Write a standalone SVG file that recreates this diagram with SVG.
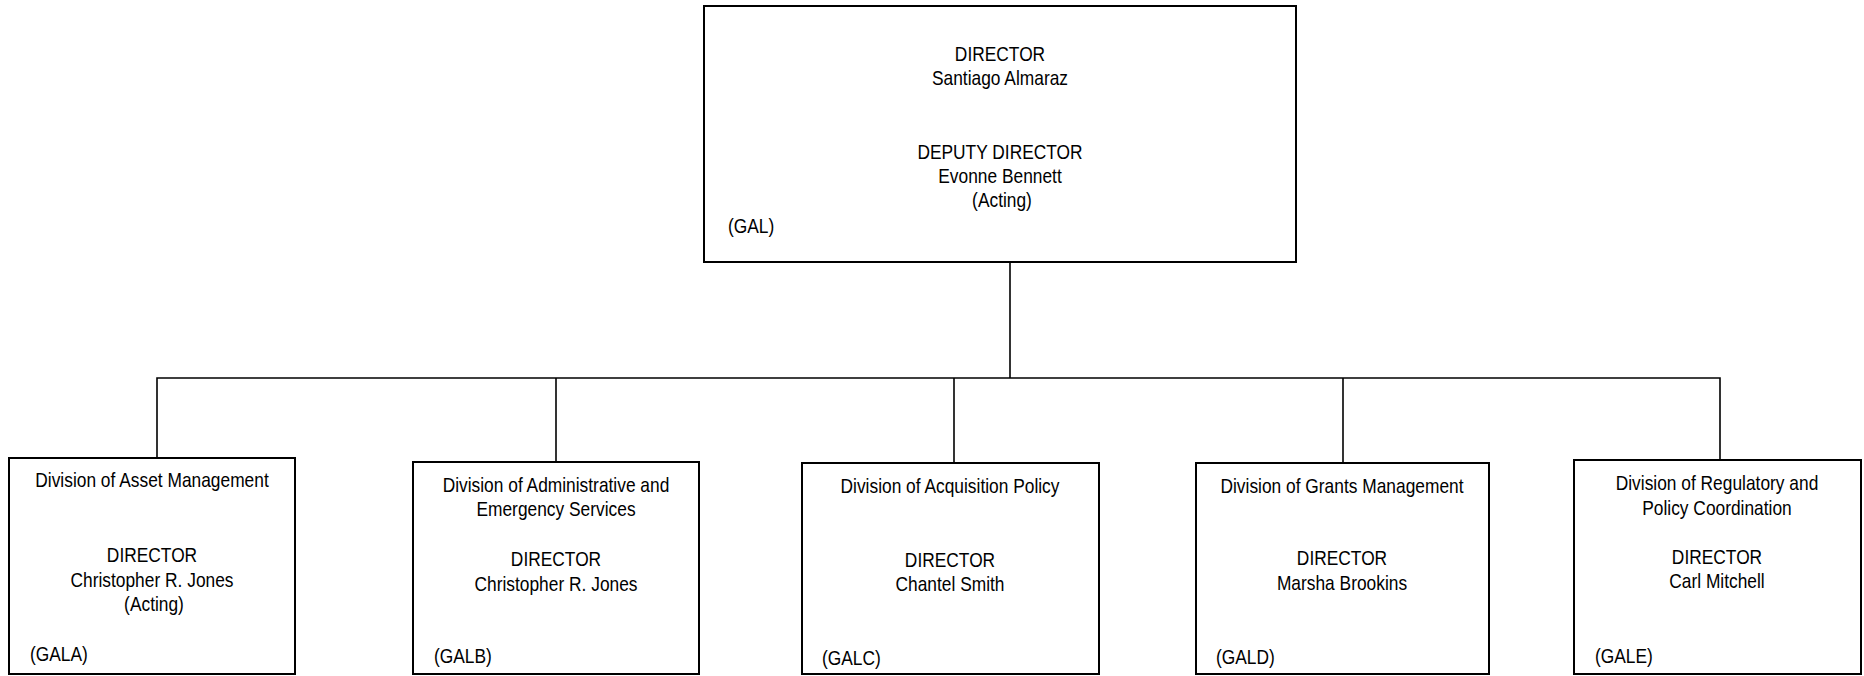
<svg xmlns="http://www.w3.org/2000/svg" width="1864" height="676" viewBox="0 0 1864 676">
<style>
.box{fill:#fff;stroke:#000;stroke-width:2}
.ln{fill:none;stroke:#000;stroke-width:1.6}
text{font-family:"Liberation Sans",Arial,sans-serif;font-size:20px;fill:#000}
.c{text-anchor:middle}
.l{text-anchor:start}
</style>
<rect width="1864" height="676" fill="#fff"/>
<g id="connectors">
<path class="ln" d="M1010 262 V378"/>
<path class="ln" d="M157 458 V378 H1720 V460"/>
<path class="ln" d="M556 378 V462"/>
<path class="ln" d="M954 378 V463"/>
<path class="ln" d="M1343 378 V463"/>
</g>
<g id="gal">
<rect class="box" x="704" y="6" width="592" height="256"/>
<text class="c" transform="translate(1000,61) scale(0.868,1)">DIRECTOR</text>
<text class="c" transform="translate(1000,85) scale(0.868,1)">Santiago Almaraz</text>
<text class="c" transform="translate(1000,159) scale(0.868,1)">DEPUTY DIRECTOR</text>
<text class="c" transform="translate(1000,183) scale(0.868,1)">Evonne Bennett</text>
<text class="c" transform="translate(1002,207) scale(0.868,1)">(Acting)</text>
<text class="l" transform="translate(728,233) scale(0.868,1)">(GAL)</text>
</g>
<g id="gala">
<rect class="box" x="9" y="458" width="286" height="216"/>
<text class="c" transform="translate(152,487) scale(0.868,1)">Division of Asset Management</text>
<text class="c" transform="translate(152,562) scale(0.868,1)">DIRECTOR</text>
<text class="c" transform="translate(152,587) scale(0.868,1)">Christopher R. Jones</text>
<text class="c" transform="translate(154,611) scale(0.868,1)">(Acting)</text>
<text class="l" transform="translate(30,661) scale(0.868,1)">(GALA)</text>
</g>
<g id="galb">
<rect class="box" x="413" y="462" width="286" height="212"/>
<text class="c" transform="translate(556,492) scale(0.868,1)">Division of Administrative and</text>
<text class="c" transform="translate(556,516) scale(0.868,1)">Emergency Services</text>
<text class="c" transform="translate(556,566) scale(0.868,1)">DIRECTOR</text>
<text class="c" transform="translate(556,591) scale(0.868,1)">Christopher R. Jones</text>
<text class="l" transform="translate(434,663) scale(0.868,1)">(GALB)</text>
</g>
<g id="galc">
<rect class="box" x="802" y="463" width="297" height="211"/>
<text class="c" transform="translate(950,493) scale(0.868,1)">Division of Acquisition Policy</text>
<text class="c" transform="translate(950,567) scale(0.868,1)">DIRECTOR</text>
<text class="c" transform="translate(950,591) scale(0.868,1)">Chantel Smith</text>
<text class="l" transform="translate(822,665) scale(0.868,1)">(GALC)</text>
</g>
<g id="gald">
<rect class="box" x="1196" y="463" width="293" height="211"/>
<text class="c" transform="translate(1342,493) scale(0.868,1)">Division of Grants Management</text>
<text class="c" transform="translate(1342,565) scale(0.868,1)">DIRECTOR</text>
<text class="c" transform="translate(1342,590) scale(0.868,1)">Marsha Brookins</text>
<text class="l" transform="translate(1216,664) scale(0.868,1)">(GALD)</text>
</g>
<g id="gale">
<rect class="box" x="1574" y="460" width="287" height="214"/>
<text class="c" transform="translate(1717,490) scale(0.868,1)">Division of Regulatory and</text>
<text class="c" transform="translate(1717,515) scale(0.868,1)">Policy Coordination</text>
<text class="c" transform="translate(1717,564) scale(0.868,1)">DIRECTOR</text>
<text class="c" transform="translate(1717,588) scale(0.868,1)">Carl Mitchell</text>
<text class="l" transform="translate(1595,663) scale(0.868,1)">(GALE)</text>
</g>
</svg>
